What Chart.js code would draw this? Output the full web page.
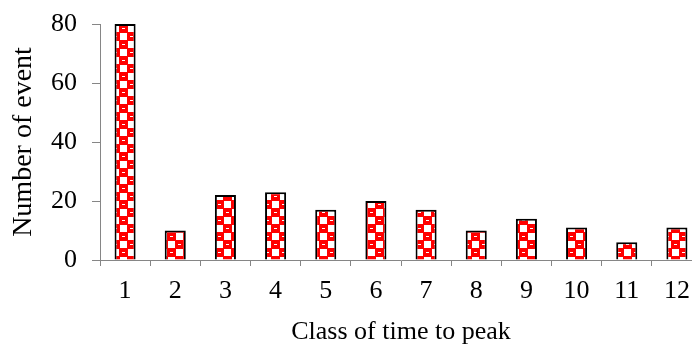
<!DOCTYPE html>
<html>
<head>
<meta charset="utf-8">
<script src="https://cdn.jsdelivr.net/npm/chart.js@4.4.1/dist/chart.umd.min.js"></script>
<style>
  html, body { margin: 0; padding: 0; background: #fff; overflow: hidden; }
  #wrap { width: 704px; height: 344px; }
</style>
</head>
<body>
<div id="wrap"><canvas id="chart" width="704" height="344"></canvas></div>
<script>
// Número de eventos por clase de tiempo al pico
const clases = ['1', '2', '3', '4', '5', '6', '7', '8', '9', '10', '11', '12'];
const eventos = [80, 10, 22, 23, 17, 20, 17, 10, 14, 11, 6, 11];
const ticksY = [0, 20, 40, 60, 80];

// patrón de cuadros rojos y blancos
function crearPatron() {
  const c = document.createElement('canvas');
  c.width = 16; c.height = 16;
  const g = c.getContext('2d');
  g.fillStyle = '#ff0000';
  g.fillRect(0, 0, 16, 16);
  g.fillStyle = '#ffffff';
  g.fillRect(8, 1, 7, 7);
  g.fillRect(0, 9, 7, 7);
  // pequeños guiones blancos en las celdas rojas
  g.fillRect(2, 4, 3, 1);
  g.fillRect(10, 12, 3, 1);
  return g.createPattern(c, 'repeat');
}

const fuente = { family: "'Liberation Serif', 'Times New Roman', serif", size: 26 };
const gris = '#868686';

new Chart(document.getElementById('chart'), {
  type: 'bar',
  data: {
    labels: clases,
    datasets: [{
      label: 'Number of event',
      data: eventos,
      backgroundColor: crearPatron(),
      borderColor: '#000000',
      borderWidth: 2,
      barPercentage: 0.42,
      categoryPercentage: 1
    }]
  },
  options: {
    responsive: false,
    animation: false,
    layout: { padding: { top: 24, right: 2, left: 0, bottom: 0 } },
    plugins: { legend: { display: false }, tooltip: { enabled: false } },
    scales: {
      x: {
        offset: true,
        grid: { offset: true, drawOnChartArea: false, drawTicks: true, tickLength: 6, color: gris },
        border: { color: gris },
        ticks: { color: '#000', font: fuente, padding: 10, maxRotation: 0 },
        title: { display: true, text: 'Class of time to peak', color: '#000', font: fuente, padding: { top: 4, bottom: -4 } },
        afterFit: s => { s.height = 84; s.paddingLeft = 0; s.paddingRight = 0; }
      },
      y: {
        min: 0, max: 80,
        afterBuildTicks: s => { s.ticks = ticksY.map(v => ({ value: v })); },
        grid: { drawOnChartArea: false, drawTicks: true, tickLength: 8, color: gris },
        border: { color: gris },
        ticks: { color: '#000', font: fuente, padding: 15 },
        title: { display: true, text: 'Number of event', color: '#000', font: { ...fuente, size: 28 }, padding: { top: 7, bottom: 0 } },
        afterFit: s => { s.width = 100; s.paddingTop = 0; s.paddingBottom = 0; }
      }
    }
  }
});
</script>
</body>
</html>
